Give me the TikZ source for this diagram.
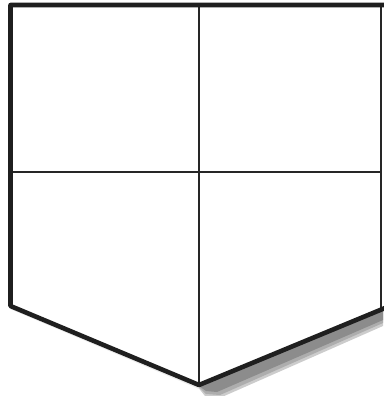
\documentclass[tikz,border=0pt]{standalone}
\begin{document}
\begin{tikzpicture}[x=1pt,y=-1pt,
  outer/.style={line width=4.6pt,line join=round,draw=black!88},
  grid/.style={line width=1.5pt,draw=black!85},
  sidethin/.style={line width=1.8pt,draw=black!85},
  shadowlayer/.style={fill=black!45,draw=none}]
\useasboundingbox (0,0) rectangle (383,396);
% soft shadow
\fill[black!20] (197,386) -- (383,308) -- (383,326) -- (222,397) -- (205,396) -- cycle;
\fill[black!32] (198,386) -- (383,308) -- (383,323) -- (220,395) -- (206,394) -- cycle;
\fill[black!45] (199,386) -- (383,308) -- (383,320) -- (217,392) -- (206,391) -- cycle;
\fill[black!8] (10,306) -- (199,386) -- (199,389) -- (10,309) -- cycle;
% body
\coordinate (tl) at (10.5,5);
\coordinate (tr) at (385,5);
\coordinate (bl) at (10.5,306);
\coordinate (bp) at (199,385);
\coordinate (br) at (385,308);
\coordinate (mt) at (199,5);
\coordinate (ml) at (10.5,172);
\coordinate (mr) at (381,172);
\coordinate (rt) at (381,5);
\coordinate (rb) at (381,309);
\fill[white] (tl) -- (tr) -- (br) -- (bp) -- (bl) -- cycle;
\draw[grid] (mt) -- (bp);
\draw[grid] (ml) -- (mr);
\draw[sidethin] (rt) -- (rb);
\draw[outer] (tr) -- (tl) -- (bl) -- (bp) -- (br);
\end{tikzpicture}
\end{document}
